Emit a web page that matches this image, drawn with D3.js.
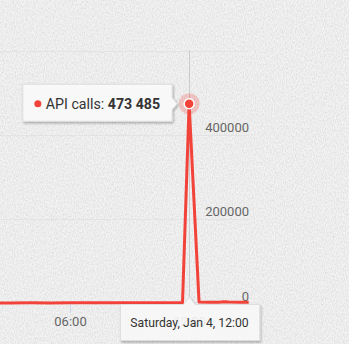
<!DOCTYPE html>
<html>
<head>
<meta charset="utf-8">
<script src="https://cdn.jsdelivr.net/npm/d3@7"></script>
<style>
    html, body { margin: 0; padding: 0; background: #f3f3f3; overflow: hidden; }
    svg { display: block; }
    text { font-family: "Roboto", "Noto Sans", sans-serif; }
</style>
</head>
<body>
<div id="chart"></div>
<script>
// api calls, Saturday Jan 4
const seriesName = "API calls";
const times = ["02:00", "03:00", "04:00", "05:00", "06:00", "07:00", "08:00", "09:00", "10:00", "11:00",
    "11:40", "12:00", "12:30", "13:00", "13:30", "13:45", "14:00", "14:30", "15:00"];
const calls = [300, 250, 300, 200, 300, 350, 300, 400, 500, 600,
    900, 473485, 2100, 1800, 2000, 3200, 2400, 2000, 1900];
const xTickLabels = ["06:00", "12:00"];
const yGridValues = [200000, 400000, 600000];
const yLabelValues = [0, 200000, 400000];
const hoverTime = "12:00";

const width = 349, height = 344;
const parseTime = t => d3.timeParse("%Y-%m-%d %H:%M")("2025-01-04 " + t);
const data = times.map((t, i) => ({ date: parseTime(t), value: calls[i] }));

const svg = d3.select("#chart").append("svg")
    .attr("width", width)
    .attr("height", height);

// textured paper background
const defs = svg.append("defs");
const noise = defs.append("filter").attr("id", "noise").attr("x", 0).attr("y", 0).attr("width", "100%").attr("height", "100%");
noise.append("feTurbulence").attr("type", "fractalNoise").attr("baseFrequency", "0.9 0.5").attr("numOctaves", 2).attr("seed", 3);
noise.append("feColorMatrix").attr("values", "0 0 0 0 0.4  0 0 0 0 0.4  0 0 0 0 0.4  0 0 0 -1.2 0.8");
const shadow = defs.append("filter").attr("id", "shadow").attr("x", "-20%").attr("y", "-30%").attr("width", "140%").attr("height", "170%");
shadow.append("feDropShadow").attr("dx", 1).attr("dy", 1.5).attr("stdDeviation", 1.3).attr("flood-color", "#000").attr("flood-opacity", 0.3);
defs.append("clipPath").attr("id", "plotclip").append("rect").attr("x", 0).attr("y", 0).attr("width", 250).attr("height", 344);

svg.append("rect").attr("width", width).attr("height", height).attr("fill", "#f3f3f3");
svg.append("rect").attr("width", width).attr("height", height).attr("filter", "url(#noise)").attr("opacity", 0.45);

let x = d3.scaleTime()
    .domain([parseTime("02:30"), parseTime("15:00")])
    .range([0.5, 248.7]);

let y = d3.scaleLinear()
    .domain([0, 600000])
    .range([303, 50.5]);

// grid
svg.append("g")
    .selectAll("line")
    .data(yGridValues)
    .join("line")
    .attr("x1", 0).attr("x2", 249)
    .attr("y1", d => Math.round(y(d)) + 0.5)
    .attr("y2", d => Math.round(y(d)) + 0.5)
    .attr("stroke", "#e3e3e3");

// y labels (inside, right)
svg.append("g")
    .selectAll("text")
    .data(yLabelValues)
    .join("text")
    .attr("x", 249)
    .attr("y", d => y(d) - 2.5)
    .attr("text-anchor", "end")
    .attr("fill", "#666")
    .style("font-size", "13px")
    .text(d => d);

// x axis ticks
let xAxis = d3.axisBottom(x)
    .tickValues(xTickLabels.map(parseTime))
    .tickFormat(d3.timeFormat("%H:%M"))
    .tickSize(10)
    .tickSizeOuter(0);

let xg = svg.append("g")
    .attr("transform", "translate(0,303)")
    .call(xAxis);
xg.select(".domain").remove();
xg.selectAll(".tick line").attr("stroke", "#ccd6eb");
xg.selectAll(".tick text")
    .attr("fill", "#666")
    .attr("y", 14)
    .style("font-size", "13px")
    .style("font-family", "Roboto, \"Noto Sans\", sans-serif");

// crosshair
const hx = Math.round(x(parseTime(hoverTime))) + 0.5;
svg.append("line")
    .attr("x1", hx).attr("x2", hx)
    .attr("y1", 50).attr("y2", 303)
    .attr("stroke", "#cccccc");

// series line
const red = "#f2433a";
let line = d3.line()
    .x(d => x(d.date))
    .y(d => y(d.value));

svg.append("path")
    .datum(data)
    .attr("clip-path", "url(#plotclip)")
    .attr("fill", "none")
    .attr("stroke", red)
    .attr("stroke-width", 3)
    .attr("stroke-linejoin", "round")
    .attr("d", line);

// hovered point
const hp = data.find(d => +d.date === +parseTime(hoverTime));
const px = x(hp.date), py = y(hp.value);
svg.append("circle").attr("cx", px).attr("cy", py).attr("r", 10.5).attr("fill", red).attr("opacity", 0.25);
svg.append("circle").attr("cx", px).attr("cy", py).attr("r", 5).attr("fill", red).attr("stroke", "#fff").attr("stroke-width", 1.5);

// point tooltip (left of point)
const tip1 = svg.append("g");
const t1 = tip1.append("text")
    .attr("x", px - 29)
    .attr("y", py + 5.5)
    .attr("text-anchor", "end")
    .attr("fill", "#333")
    .style("font-size", "14.2px");
t1.append("tspan").text(seriesName + ": ");
t1.append("tspan").attr("font-weight", "bold").text(d3.format(",")(hp.value).replace(/,/g, " "));
const b1 = t1.node().getBBox();
const r1 = px - 17, l1 = b1.x - 23, top1 = py - 19.5, bot1 = py + 17.5;
tip1.insert("path", "text")
    .attr("d", `M${l1},${top1}H${r1}V${py - 6}L${px - 12},${py}L${r1},${py + 6}V${bot1}H${l1}Z`)
    .attr("fill", "rgba(252,252,252,0.92)")
    .attr("stroke", "#dedede")
    .attr("filter", "url(#shadow)");
tip1.append("circle").attr("cx", b1.x - 8).attr("cy", py).attr("r", 3.5).attr("fill", red);

// axis tooltip (below)
const tip2 = svg.append("g");
const t2 = tip2.append("text")
    .attr("x", hx)
    .attr("y", 326.5)
    .attr("text-anchor", "middle")
    .attr("fill", "#333")
    .style("font-size", "12.2px")
    .text(d3.timeFormat("%A, %b %-d, %H:%M")(hp.date));
const b2 = t2.node().getBBox();
const l2 = b2.x - 10, r2 = b2.x + b2.width + 11, top2 = 304.5, bot2 = 340.5;
tip2.insert("path", "text")
    .attr("d", `M${l2},${top2}H${hx - 5.5}L${hx},${297}L${hx + 5.5},${top2}H${r2}V${bot2}H${l2}Z`)
    .attr("fill", "rgba(252,252,252,0.88)")
    .attr("stroke", "#dedede")
    .attr("filter", "url(#shadow)");
</script>
</body>
</html>
